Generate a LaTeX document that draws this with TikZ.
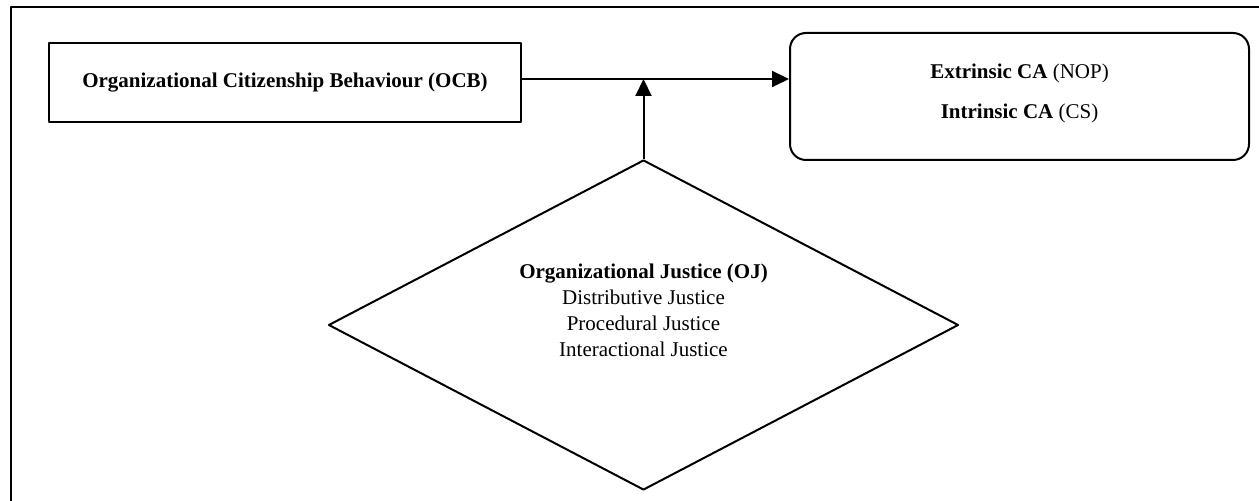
\documentclass[tikz,border=0pt]{standalone}
\usepackage{fontspec}
\setmainfont{Liberation Serif}
\usetikzlibrary{arrows.meta, shapes.geometric}

\begin{document}
\begin{tikzpicture}[x=0.5pt, y=-0.5pt, line join=round,
	txt/.style={align=center, inner sep=0pt, font=\fontsize{10.5}{13}\selectfont},
	box/.style={txt, draw, line width=1pt},
	link/.style={-{Triangle[length=8.5pt,width=8pt]}, line width=1pt}]
				\useasboundingbox (0,0) rectangle (1259,501);
				\draw[line width=1.3pt] (11,510)--(11,7)--(1270,7);
				\node[box, minimum width=236pt, minimum height=39.5pt] (ocb) at (285,82.5) {\textbf{Organizational Citizenship Behaviour (OCB)}};
				\node[box, rounded corners=8pt, minimum width=229.5pt, minimum height=63.5pt] (ca) at (1019.5,96.5) {};
				\node[txt] (catext) at (1019.5,93) {\textbf{Extrinsic CA} (NOP)\\[7pt]\textbf{Intrinsic CA} (CS)};
				\node[box, diamond, aspect=1.91, minimum width=315pt, minimum height=165pt] (oj) at (643.5,325) {};
				\node[txt] (ojtext) at (643.5,310) {\textbf{Organizational Justice (OJ)}\\Distributive Justice\\Procedural Justice\\Interactional Justice};
				\draw[link] (ocb.east |- 0,79) -- (ca.west |- 0,79);
				\draw[link] (oj.north) -- (oj.north |- 0,79);
			\end{tikzpicture}
\end{document}
